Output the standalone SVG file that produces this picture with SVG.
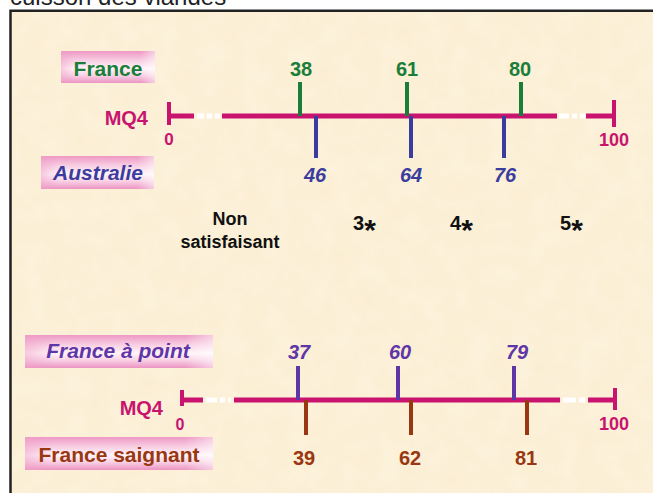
<svg xmlns="http://www.w3.org/2000/svg" width="653" height="493" viewBox="0 0 653 493">
<defs>
<linearGradient id="pinkbox" x1="0" y1="0" x2="0" y2="1">
<stop offset="0" stop-color="#ee98c4"/>
<stop offset="0.3" stop-color="#f8cfe3"/>
<stop offset="0.55" stop-color="#fff4f8"/>
<stop offset="0.75" stop-color="#f9d3e6"/>
<stop offset="1" stop-color="#ec94c2"/>
</linearGradient>
<linearGradient id="pinkside" x1="0" y1="0" x2="1" y2="0">
<stop offset="0" stop-color="#f0a0c8" stop-opacity="0.5"/>
<stop offset="0.15" stop-color="#f0a0c8" stop-opacity="0"/>
<stop offset="0.85" stop-color="#ffffff" stop-opacity="0"/>
<stop offset="1" stop-color="#ffffff" stop-opacity="0.5"/>
</linearGradient>
<filter id="paper" x="0" y="0" width="100%" height="100%">
<feTurbulence type="fractalNoise" baseFrequency="0.045" numOctaves="3" seed="4" result="n"/>
<feColorMatrix in="n" type="matrix" values="0 0 0 0 1  0 0 0 0 0.97  0 0 0 0 0.9  0 0 0 0.35 -0.05"/>
</filter>
</defs>
<style>
text{font-family:"Liberation Sans",Arial,sans-serif;font-weight:bold}
.lbl{font-size:21px}
.num{font-size:20px;text-anchor:middle}
.axl{font-size:20px;fill:#c8146e;text-anchor:end}
.end{fill:#c8146e;text-anchor:middle}
.green{fill:#1b7d3a}
.blue{fill:#3b3d9e;font-style:italic}
.purple{fill:#5f36a6;font-style:italic}
.brown{fill:#983712}
.cat{font-size:18px;fill:#111;text-anchor:middle}
.star{font-size:20px;fill:#111}
.axis{stroke:#c8146e;stroke-width:5;fill:none}
.tickend{stroke:#c8146e;stroke-width:4}
.dots{stroke:#ffffff;stroke-width:5}
.tg{stroke:#1b7d3a;stroke-width:4}
.tb{stroke:#3b3d9e;stroke-width:4}
.tp{stroke:#5f36a6;stroke-width:4}
.tr{stroke:#983712;stroke-width:4}
.box{fill:url(#pinkbox)}
.boxs{fill:url(#pinkside)}
</style>
<rect x="0" y="0" width="653" height="493" fill="#ffffff"/>
<text x="10" y="5" style="font-weight:normal;font-size:24px;fill:#222">cuisson des viandes</text>
<rect x="10" y="11" width="643" height="482" fill="#fbeed3"/>
<rect x="10" y="11" width="643" height="482" filter="url(#paper)"/>
<path d="M10.5 493 V10.8 H653" fill="none" stroke="#222" stroke-width="2.5"/>

<g id="label-france">
<rect class="box" x="61" y="51" width="94" height="32"/>
<rect class="boxs" x="61" y="51" width="94" height="32"/>
<text class="lbl green" x="108" y="76" text-anchor="middle">France</text>
</g>
<g id="label-australie">
<rect class="box" x="41" y="156" width="113" height="33"/>
<rect class="boxs" x="41" y="156" width="113" height="33"/>
<text class="lbl blue" x="98" y="180" text-anchor="middle">Australie</text>
</g>
<g id="label-france-a-point">
<rect class="box" x="25" y="335" width="188" height="33"/>
<rect class="boxs" x="25" y="335" width="188" height="33"/>
<text class="lbl purple" x="118" y="358" text-anchor="middle">France à point</text>
</g>
<g id="label-france-saignant">
<rect class="box" x="25" y="437" width="188" height="33"/>
<rect class="boxs" x="25" y="437" width="188" height="33"/>
<text class="lbl brown" x="119" y="462" text-anchor="middle">France saignant</text>
</g>

<g id="axis-top">
<text class="axl" x="148" y="125">MQ4</text>
<path class="axis" d="M169 116 H194 M222 116 H557 M586 116 H614"/>
<path class="dots" d="M197 116 H204 M207 116 H212 M215 116 H220 M559 116 H569 M572 116 H577 M580 116 H585"/>
<path class="tickend" d="M169 102 V125 M614 100 V127"/>
<text class="end" x="169" y="145" font-size="17">0</text>
<text class="end" x="614" y="146" font-size="18">100</text>
</g>
<g id="axis-bottom">
<text class="axl" x="163" y="415">MQ4</text>
<path class="axis" d="M182 400 H203 M234 400 H560 M588 400 H615"/>
<path class="dots" d="M206 400 H217 M220 400 H225 M228 400 H231 M563 400 H576 M579 400 H585"/>
<path class="tickend" d="M182 390 V406 M615 388 V410"/>
<text class="end" x="180" y="430" font-size="16">0</text>
<text class="end" x="614" y="430" font-size="18">100</text>
</g>

<g id="connectors">
<path class="tg" d="M300 82 V116 M407 82 V116 M521 82 V116"/>
<path class="tb" d="M316 116 V158 M411 116 V158 M504 116 V158"/>
<path class="tp" d="M298 366 V400 M398 366 V400 M514 366 V400"/>
<path class="tr" d="M306 400 V435 M411 400 V435 M527 400 V435"/>
</g>

<g id="values-france">
<text class="num green" x="301" y="76">38</text>
<text class="num green" x="407" y="76">61</text>
<text class="num green" x="520" y="76">80</text>
</g>
<g id="values-australie">
<text class="num blue" x="315" y="182" font-size="19">46</text>
<text class="num blue" x="411" y="182" font-size="19">64</text>
<text class="num blue" x="505" y="182" font-size="19">76</text>
</g>
<g id="values-a-point">
<text class="num purple" x="299" y="359" font-size="19">37</text>
<text class="num purple" x="400" y="359" font-size="19">60</text>
<text class="num purple" x="517" y="359" font-size="19">79</text>
</g>
<g id="values-saignant">
<text class="num brown" x="304" y="465">39</text>
<text class="num brown" x="410" y="465">62</text>
<text class="num brown" x="526" y="465">81</text>
</g>

<g id="categories">
<text class="cat" x="230" y="225">Non</text>
<text class="cat" x="230" y="248">satisfaisant</text>
<text class="star" x="353" y="230">3<tspan font-size="30" dy="10">*</tspan></text>
<text class="star" x="450" y="230">4<tspan font-size="30" dy="10">*</tspan></text>
<text class="star" x="560" y="230">5<tspan font-size="30" dy="10">*</tspan></text>
</g>
</svg>
